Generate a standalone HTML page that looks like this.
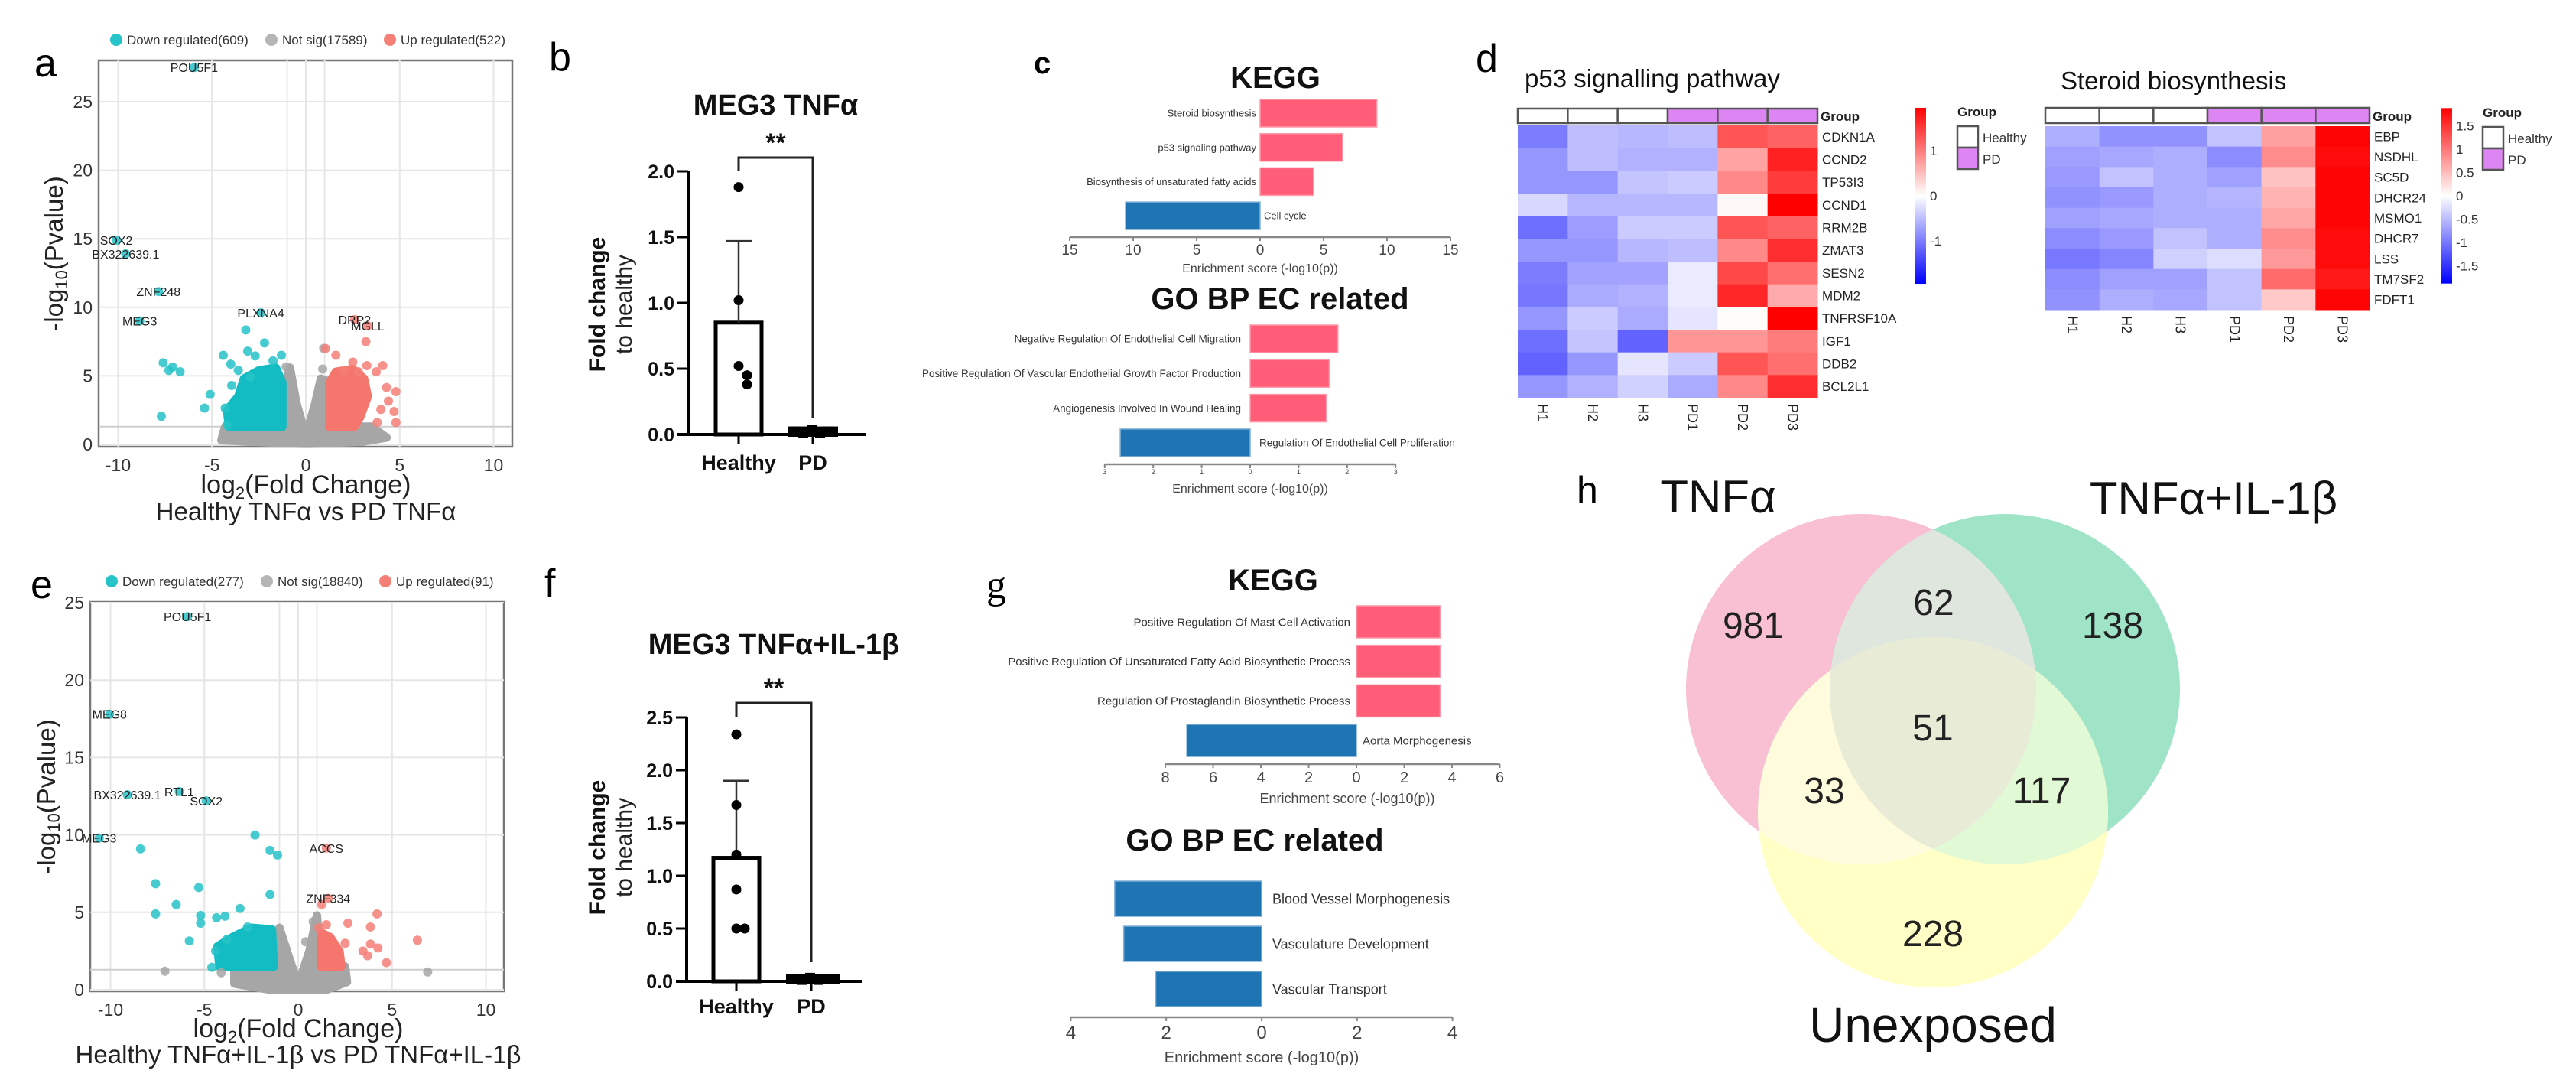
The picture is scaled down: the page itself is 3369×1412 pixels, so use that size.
<!DOCTYPE html>
<html><head><meta charset="utf-8"><title>MEG3 figure</title>
<style>
html,body{margin:0;padding:0;background:#fff;}
svg{display:block;font-family:"Liberation Sans",Arial,sans-serif;}
</style></head>
<body>
<svg id="fig" xmlns="http://www.w3.org/2000/svg" width="3369" height="1412" viewBox="0 0 3369 1412">
<rect x="0" y="0" width="3369" height="1412" fill="#fff"/>
<text x="45" y="100" font-size="52">a</text>
<text x="718" y="92" font-size="52">b</text>
<text x="1352" y="96" font-size="40" font-weight="bold">c</text>
<text x="1930" y="94" font-size="52">d</text>
<text x="40" y="782" font-size="52">e</text>
<text x="712" y="780" font-size="52">f</text>
<text x="1290" y="782" font-size="52" font-family="Liberation Serif,serif">g</text>
<text x="2062" y="658" font-size="50">h</text>
<g id="root"></g>
</svg>
<script>
// ---------------- DATA ----------------
const aDownX=[-5.95,-10.1,-9.6,-7.85,-8.85,-2.4,-3.2,-2.2,-3.1,-2.7,-4.4,-4.0,-1.3,-1.75,-7.6,-7.3,-7.1,-6.7,-5.1,-5.4,-7.7,-4.3,-3.95,-3.6,-4.2,-2.95];
const aDownY=[27.5,14.9,13.9,11.15,9.0,9.6,8.35,7.4,6.8,6.45,6.5,5.85,6.5,6.1,5.95,5.4,5.65,5.3,3.65,2.65,2.05,2.65,4.3,5.4,1.4,4.9];
const aUpX=[2.6,3.3,3.2,1.05,1.6,3.25,4.1,2.8,3.75,4.8,4.4,4.0,4.7,4.8,3.8,4.3,2.05,2.5];
const aUpY=[9.1,8.65,7.5,7.0,6.5,5.75,5.75,5.3,5.3,3.85,3.15,2.55,2.4,1.6,1.6,4.15,5.4,6.0];
const aNsX=[0.95,0.9,-1.05];
const aNsY=[7.0,5.5,5.65];
const aLabelText=["POU5F1","SOX2","BX322639.1","ZNF248","MEG3","PLXNA4","DRP2","MGLL"];
const aLabelX=[-5.95,-10.1,-9.6,-7.85,-8.85,-2.4,2.6,3.3];
const aLabelY=[27.5,14.9,13.9,11.15,9.0,9.6,9.1,8.65];
const aNsCloudX=[-4.5,-4.3,-1.3,-1.2,-0.85,-0.5,0,0.5,0.8,1.2,1.3,3.5,4.3,3.0,0.3,-0.3];
const aNsCloudY=[0.3,1.3,1.3,3.5,5.6,3.0,0.6,3.0,4.8,4.6,1.3,1.3,0.5,0.2,0.05,0.05];
const aDownCloudX=[-4.1,-4.2,-3.6,-3.3,-2.5,-1.6,-1.25,-1.25];
const aDownCloudY=[1.3,2.5,3.5,4.8,5.4,5.6,4.5,1.3];
const aUpCloudX=[1.25,1.25,1.6,2.5,3.1,3.3,2.9,2.6];
const aUpCloudY=[1.3,4.5,5.3,5.5,4.8,3.5,2.0,1.3];
const aLegend=["Down regulated(609)","Not sig(17589)","Up regulated(522)"];

const eDownX=[-5.9,-10.05,-6.34,-9.1,-4.9,-10.6,-8.4,-2.3,-1.5,-1.1,-7.6,-5.3,-1.5,-6.5,-3.1,-7.6,-5.2,-5.2,-4.35,-3.9,-2.7,-5.8,-3.8,-4.6,-4.4];
const eDownY=[24.1,17.8,12.8,12.6,12.2,9.8,9.1,10.0,9.0,8.7,6.85,6.6,6.15,5.5,5.25,4.9,4.8,4.3,4.65,4.75,4.05,3.15,3.25,1.45,2.5];
const eUpX=[1.5,1.6,1.25,4.2,2.65,3.85,6.35,4.25,3.45,3.7,4.7,2.5,1.5,1.1,3.85];
const eUpY=[9.15,5.9,5.5,4.9,4.3,4.05,3.2,2.7,2.5,2.2,1.75,3.0,4.2,4.0,2.95];
const eNsX=[-7.1,6.9,-4.1,0.8,0.4];
const eNsY=[1.2,1.15,1.1,4.4,3.1];
const eLabelText=["POU5F1","MEG8","RTL1","BX322639.1","SOX2","MEG3","ACCS","ZNF334"];
const eLabelX=[-5.9,-10.05,-6.34,-9.1,-4.9,-10.6,1.5,1.6];
const eLabelY=[24.1,17.8,12.8,12.6,12.2,9.8,9.15,5.9];
const eNsCloudX=[-3.4,-3.4,-1.4,-1.0,-0.6,0,0.6,1.0,1.2,2.5,2.6,1.5,-1.5];
const eNsCloudY=[0.4,1.5,1.5,4.0,2.5,0.3,2.5,4.8,1.5,1.5,0.5,0.0,0.0];
const eDownCloudX=[-4.2,-4.3,-3.5,-2.5,-1.4,-1.3];
const eDownCloudY=[1.5,2.8,3.4,4.0,3.9,1.5];
const eUpCloudX=[1.2,1.2,1.7,2.2,2.3];
const eUpCloudY=[1.5,3.7,3.4,2.5,1.5];
const eLegend=["Down regulated(277)","Not sig(18840)","Up regulated(91)"];

const bGroups=["Healthy","PD"];
const bHealthy=[1.88,1.02,0.52,0.45,0.38];
const bPD=[0.02,0.01,0.03,0.01,0.02];
const bMean=[0.85,0.02];
const bSD=[0.62,0.01];
const bTicks=[0,0.5,1.0,1.5,2.0];
const fHealthy=[2.34,1.67,1.2,0.87,0.5,0.5];
const fPD=[0.02,0.01,0.03,0.01,0.02,0.02];
const fMean=[1.17,0.02];
const fSD=[0.73,0.01];
const fTicks=[0,0.5,1.0,1.5,2.0,2.5];

const cKeggTerms=["Steroid biosynthesis","p53 signaling pathway","Biosynthesis of unsaturated fatty acids","Cell cycle"];
const cKeggVals=[9.2,6.5,4.2,-10.6];
const cKeggTicks=[-15,-10,-5,0,5,10,15];
const cGoTerms=["Negative Regulation Of Endothelial Cell Migration","Positive Regulation Of Vascular Endothelial Growth Factor Production","Angiogenesis Involved In Wound Healing","Regulation Of Endothelial Cell Proliferation"];
const cGoVals=[1.81,1.63,1.57,-2.68];
const cGoTicks=[-3,-2,-1,0,1,2,3];
const gKeggTerms=["Positive Regulation Of Mast Cell Activation","Positive Regulation Of Unsaturated Fatty Acid Biosynthetic Process","Regulation Of Prostaglandin Biosynthetic Process","Aorta Morphogenesis"];
const gKeggVals=[3.5,3.5,3.5,-7.1];
const gKeggTicks=[-8,-6,-4,-2,0,2,4,6];
const gGoTerms=["Blood Vessel Morphogenesis","Vasculature Development","Vascular Transport"];
const gGoVals=[-3.08,-2.89,-2.22];
const gGoTicks=[-4,-2,0,2,4];

const hSamples=["H1","H2","H3","PD1","PD2","PD3"];
const hGroups=["Healthy","Healthy","Healthy","PD","PD","PD"];
const p53Genes=["CDKN1A","CCND2","TP53I3","CCND1","RRM2B","ZMAT3","SESN2","MDM2","TNFRSF10A","IGF1","DDB2","BCL2L1"];
const p53Vals=[
[-1.0,-0.5,-0.55,-0.5,1.3,1.2],
[-0.8,-0.5,-0.6,-0.6,0.7,1.7],
[-0.8,-0.8,-0.45,-0.4,0.9,1.5],
[-0.3,-0.55,-0.55,-0.55,0.05,1.95],
[-1.1,-0.75,-0.4,-0.4,1.3,1.2],
[-0.8,-0.8,-0.55,-0.5,0.9,1.6],
[-1.0,-0.7,-0.7,-0.15,1.4,1.1],
[-1.05,-0.65,-0.6,-0.15,1.65,0.65],
[-0.8,-0.4,-0.65,-0.2,0.02,1.95],
[-1.1,-0.45,-1.2,0.8,0.8,1.0],
[-1.2,-0.8,-0.2,-0.4,1.3,1.1],
[-0.8,-0.6,-0.35,-0.65,0.9,1.6]];
const p53Ticks=[-1,0,1];
const sterGenes=["EBP","NSDHL","SC5D","DHCR24","MSMO1","DHCR7","LSS","TM7SF2","FDFT1"];
const sterVals=[
[-0.6,-0.8,-0.8,-0.45,0.7,1.85],
[-0.7,-0.65,-0.6,-0.85,0.85,1.8],
[-0.75,-0.45,-0.6,-0.7,0.45,1.85],
[-0.8,-0.75,-0.6,-0.55,0.55,1.85],
[-0.7,-0.65,-0.6,-0.6,0.65,1.85],
[-0.85,-0.75,-0.45,-0.6,0.85,1.8],
[-1.0,-0.9,-0.35,-0.25,0.75,1.8],
[-0.85,-0.7,-0.7,-0.45,1.1,1.7],
[-0.8,-0.6,-0.65,-0.45,0.4,1.85]];
const sterTicks=[-1.5,-1,-0.5,0,0.5,1,1.5];

const vennSets=["TNFα","TNFα+IL-1β","Unexposed"];
const vennCounts=[981,138,228,62,33,117,51]; // onlyA, onlyB, onlyC, AB, AC, BC, ABC

// ---------------- DRAWING ----------------
const NS="http://www.w3.org/2000/svg";
const root=document.getElementById('root');
function mk(tag,attrs,parent){const e=document.createElementNS(NS,tag);for(const k in attrs)e.setAttribute(k,attrs[k]);(parent||root).appendChild(e);return e;}
function txt(x,y,s,size,attrs,parent){const a=Object.assign({x:x,y:y,'font-size':size,fill:'#222'},attrs||{});const t=mk('text',a,parent);t.textContent=s;return t;}

function volcano(P,D){
  const g=mk('g',{});
  
  
  const X=v=>P.x0+v*P.kx, Y=v=>P.y0-v*P.ky;
  const box=mk('rect',{x:P.L,y:P.T,width:P.R-P.L,height:P.B-P.T,fill:'#fff',stroke:'#777','stroke-width':2.5},g);
  
  
  [-10,-5,0,5,10,-1,1].forEach(v=>{const l=mk('line',{x1:X(v),x2:X(v),y1:P.T,y2:P.B,stroke:'#e6e6e6','stroke-width':2},g);
    
    });
  P.yt.forEach(v=>{const l=mk('line',{x1:P.L,x2:P.R,y1:Y(v),y2:Y(v),stroke:'#e6e6e6','stroke-width':2},g);
    
    
    const t=txt(P.L-8,Y(v)+8,String(v),23,{'text-anchor':'end',fill:'#333'},g);
    
    });
  [-10,-5,0,5,10].forEach(v=>{const t=txt(X(v),P.B+32,String(v),23,{'text-anchor':'middle',fill:'#333'},g);
    
    });
  const th=mk('line',{x1:P.L,x2:P.R,y1:Y(1.3),y2:Y(1.3),stroke:'#cfcfcf','stroke-width':2},g);
  
  
  function cloud(xs,ys,col,name){const pts=xs.map((v,i)=>X(v)+','+Y(ys[i])).join(' ');
    const p=mk('polygon',{points:pts,fill:col,stroke:col,'stroke-width':11,'stroke-linejoin':'round'},g);
    
    }
  cloud(D.nsCX,D.nsCY,'#a6a6a6','not-sig-cloud');
  cloud(D.dnCX,D.dnCY,'#12bcc2','down-cloud');
  cloud(D.upCX,D.upCY,'#f4766c','up-cloud');
  function pts(xs,ys,col,name){xs.forEach((v,i)=>{const c=mk('circle',{cx:X(v),cy:Y(ys[i]),r:6,fill:col,'fill-opacity':0.85},g);
    
    });}
  pts(D.nsX,D.nsY,'#a6a6a6','point-not-sig');
  pts(D.dnX,D.dnY,'#26c3c8','point-down');
  pts(D.upX,D.upY,'#f47f77','point-up');
  D.lt.forEach((s,i)=>{const t=txt(X(D.lx[i]),Y(D.ly[i])+6,s,16,{'text-anchor':'middle',fill:'#222'},g);
    
    });
  const lc=['#26c3c8','#b5b5b5','#f47f77'];
  D.leg.forEach((s,i)=>{const c=mk('circle',{cx:P.legX[i],cy:P.legY,r:8,fill:lc[i]},g);
    
    
    const t=txt(P.legX[i]+14,P.legY+6,s,17,{fill:'#333'},g);
    
    });
  const yt=txt(0,0,'',33,{'text-anchor':'middle',transform:`translate(${P.ytX},${(P.T+P.B)/2}) rotate(-90)`,fill:'#222'},g);
  yt.innerHTML='-log<tspan font-size="22" dy="6">10</tspan><tspan dy="-6">(Pvalue)</tspan>';
  
  
  const xt=txt(X(0),P.xtY,'',34,{'text-anchor':'middle',fill:'#222'},g);
  xt.innerHTML='log<tspan font-size="22" dy="7">2</tspan><tspan dy="-7">(Fold Change)</tspan>';
  
  
  const st=txt(X(0),P.stY,D.sub,33,{'text-anchor':'middle',fill:'#222'},g);
  
  
}
volcano({name:'volcano-tnfa',L:129,R:670,T:79,B:584,x0:400,kx:24.55,y0:581,ky:17.92,yt:[0,5,10,15,20,25],legX:[152,355,510],legY:52,ytX:82,xtY:645,stY:680},
 {nsCX:aNsCloudX,nsCY:aNsCloudY,dnCX:aDownCloudX,dnCY:aDownCloudY,upCX:aUpCloudX,upCY:aUpCloudY,nsX:aNsX,nsY:aNsY,dnX:aDownX,dnY:aDownY,upX:aUpX,upY:aUpY,lt:aLabelText,lx:aLabelX,ly:aLabelY,leg:aLegend,sub:'Healthy TNFα vs PD TNFα'});
volcano({name:'volcano-tnfa-il1b',L:118,R:659,T:787,B:1296,x0:390,kx:24.55,y0:1294,ky:20.24,yt:[0,5,10,15,20,25],legX:[146,349,504],legY:760,ytX:72,xtY:1356,stY:1390},
 {nsCX:eNsCloudX,nsCY:eNsCloudY,dnCX:eDownCloudX,dnCY:eDownCloudY,upCX:eUpCloudX,upCY:eUpCloudY,nsX:eNsX,nsY:eNsY,dnX:eDownX,dnY:eDownY,upX:eUpX,upY:eUpY,lt:eLabelText,lx:eLabelX,ly:eLabelY,leg:eLegend,sub:'Healthy TNFα+IL-1β vs PD TNFα+IL-1β'});

function dotbar(P,H,PDv,mean,sd,ticks){
  const g=mk('g',{});
  
  
  const Y=v=>P.y0-v*P.ky;
  const gx=[P.hx,P.px];
  const t=txt((gx[0]+gx[1])/2,P.titleY,P.title,38,{'text-anchor':'middle','font-weight':'bold',fill:'#111'},g);
  
  
  mean.forEach((m,i)=>{const h=Math.max(Y(0)-Y(m),0);
    if(i===0){const r=mk('rect',{x:gx[i]-30,y:Y(m),width:60,height:h,fill:'#fff',stroke:'#000','stroke-width':5},g);
      
      }
    else{const r=mk('rect',{x:gx[i]-33,y:Y(m)-7,width:66,height:h+10,fill:'#000'},g);
      
      }
    const e=mk('line',{x1:gx[i],x2:gx[i],y1:Y(m),y2:Y(m+sd[i]),stroke:'#333','stroke-width':2.5},g);
    
    
    const c=mk('line',{x1:gx[i]-17,x2:gx[i]+17,y1:Y(m+sd[i]),y2:Y(m+sd[i]),stroke:'#333','stroke-width':2.5},g);
    
    });
  H.forEach((v,i)=>{let dx=0; if(i>0){for(let j=0;j<i;j++){if(Math.abs(H[j]-v)<0.12)dx=(dx<=0?11:-11);}}
    const c=mk('circle',{cx:gx[0]+dx,cy:Y(v),r:6.5,fill:'#000'},g);
    
    });
  PDv.forEach((v,i)=>{const c=mk('rect',{x:gx[1]-30+i*11,y:Y(v)-7,width:13,height:13,fill:'#000'},g);
    
    });
  const ya=mk('line',{x1:P.ax,x2:P.ax,y1:Y(ticks[ticks.length-1]),y2:Y(0),stroke:'#000','stroke-width':4},g);
  
  
  const xa=mk('line',{x1:P.ax-14,x2:P.xEnd,y1:Y(0),y2:Y(0),stroke:'#000','stroke-width':4},g);
  
  
  ticks.forEach(v=>{const l=mk('line',{x1:P.ax-14,x2:P.ax,y1:Y(v),y2:Y(v),stroke:'#000','stroke-width':3},g);
    
    
    const tl=txt(P.ax-18,Y(v)+9,v.toFixed(1),25,{'text-anchor':'end','font-weight':'bold',fill:'#111'},g);
    
    });
  bGroups.forEach((s,i)=>{const l=mk('line',{x1:gx[i],x2:gx[i],y1:Y(0),y2:Y(0)+12,stroke:'#000','stroke-width':3},g);
    
    
    const tl=txt(gx[i],P.labY,s,27,{'text-anchor':'middle','font-weight':'bold',fill:'#111'},g);
    
    });
  const br=mk('polyline',{points:`${gx[0]},${P.legH} ${gx[0]},${P.brY} ${gx[1]},${P.brY} ${gx[1]},${P.legP}`,fill:'none',stroke:'#222','stroke-width':3},g);
  
  
  const st=txt((gx[0]+gx[1])/2,P.brY-8,'**',34,{'text-anchor':'middle','font-weight':'bold',fill:'#111'},g);
  
  
  const yt=txt(0,0,'Fold change',30,{'text-anchor':'middle','font-weight':'bold',fill:'#111',transform:`translate(${P.ytX},${P.ytY}) rotate(-90)`},g);
  
  
  const yt2=txt(0,0,'to healthy',30,{'text-anchor':'middle',fill:'#222',transform:`translate(${P.ytX+35},${P.ytY}) rotate(-90)`},g);
  
  
}
dotbar({name:'bar-meg3-tnfa',title:'MEG3 TNFα',hx:966,px:1063,ax:900,xEnd:1132,y0:568,ky:172,titleY:150,brY:206,legH:224,legP:547,labY:614,ytX:791,ytY:398},bHealthy,bPD,bMean,bSD,bTicks);
dotbar({name:'bar-meg3-tnfa-il1b',title:'MEG3 TNFα+IL-1β',hx:963,px:1061,ax:898,xEnd:1128,y0:1283,ky:138,titleY:855,brY:919,legH:938,legP:1258,labY:1325,ytX:791,ytY:1108},fHealthy,fPD,fMean,fSD,fTicks);

function enrich(P,terms,vals,ticks){
  const g=mk('g',{});
  
  
  const X=v=>P.x0+v*P.kx;
  const t=txt(P.titleX,P.titleY,P.title,40,{'text-anchor':'middle','font-weight':'bold',fill:'#111'},g);
  
  
  terms.forEach((s,i)=>{const v=vals[i];const cy=P.y1+i*P.dy;
    const r=mk('rect',{x:Math.min(X(0),X(v)),y:cy-P.bh/2,width:Math.abs(X(v)-X(0)),height:P.bh,fill:v>=0?'#ff5d78':'#1f75b3',stroke:v>=0?'#ff9aaa':'#7fb0d8','stroke-width':1.5},g);
    
    
    const lab= v>=0 ? txt(X(0)-P.gap,cy+P.fs*0.35,s,P.fs,{'text-anchor':'end',fill:'#333'},g)
                   : txt(X(0)+P.gap,cy+P.fs*0.35,s,P.fs,{fill:'#333'},g);
    
    });
  const ax=mk('line',{x1:X(ticks[0]),x2:X(ticks[ticks.length-1]),y1:P.axY,y2:P.axY,stroke:'#888','stroke-width':2.5},g);
  
  
  ticks.forEach(v=>{const l=mk('line',{x1:X(v),x2:X(v),y1:P.axY,y2:P.axY+5,stroke:'#888','stroke-width':2},g);
    
    
    const tl=txt(X(v),P.axY+P.tfs+4,String(Math.abs(v)),P.tfs,{'text-anchor':'middle',fill:'#444'},g);
    
    });
  const xt=txt(X(0)+P.xtOff,P.xtY,'Enrichment score (-log10(p))',P.xfs,{'text-anchor':'middle',fill:'#444'},g);
  
  
}
enrich({name:'c-kegg',title:'KEGG',titleX:1668,titleY:115,x0:1648,kx:16.6,y1:148,dy:44.7,bh:36,fs:13,gap:5,axY:310,tfs:19,xtOff:0,xtY:356,xfs:16},cKeggTerms,cKeggVals,cKeggTicks);
enrich({name:'c-go-bp',title:'GO BP EC related',titleX:1674,titleY:404,x0:1635,kx:63.4,y1:443,dy:45.3,bh:36,fs:13.5,gap:12,axY:607,tfs:9,xtOff:0,xtY:644,xfs:16},cGoTerms,cGoVals,cGoTicks);
enrich({name:'g-kegg',title:'KEGG',titleX:1665,titleY:772,x0:1774,kx:31.25,y1:813,dy:51.7,bh:42,fs:15,gap:8,axY:999,tfs:20,xtOff:-12,xtY:1050,xfs:18},gKeggTerms,gKeggVals,gKeggTicks);
enrich({name:'g-go-bp',title:'GO BP EC related',titleX:1641,titleY:1112,x0:1650,kx:62.4,y1:1175,dy:59,bh:46,fs:18,gap:14,axY:1330,tfs:24,xtOff:0,xtY:1389,xfs:20},gGoTerms,gGoVals,gGoTicks);

function hcol(v,m){const t=Math.max(-1,Math.min(1,v/m));
  if(t>=0){const c=Math.round(255*(1-t));return `rgb(255,${c},${c})`;}
  const c=Math.round(255*(1+t));return `rgb(${c},${c},255)`;}
let gradN=0;
function heat(P,genes,vals,ticks){
  const g=mk('g',{});
  
  
  const t=txt(P.titleX,P.titleY,P.title,33,{fill:'#111'},g);
  
  
  const cw=(P.R-P.L)/hSamples.length, rh=(P.B-P.T)/genes.length;
  hSamples.forEach((s,j)=>{const a=mk('rect',{x:P.L+j*cw,y:P.gT,width:cw,height:P.gB-P.gT,fill:hGroups[j]==='PD'?'#dd85f3':'#fff',stroke:'#555','stroke-width':2.5},g);
    
    
    const sl=txt(0,0,s,18,{fill:'#222',transform:`translate(${P.L+j*cw+cw/2-6},${P.B+8}) rotate(90)`},g);
    
    });
  const gl=txt(P.R+4,P.gB-3,'Group',17,{'font-weight':'bold',fill:'#222'},g);
  
  
  genes.forEach((gn,i)=>{vals[i].forEach((v,j)=>{const c=mk('rect',{x:P.L+j*cw,y:P.T+i*rh,width:cw+0.5,height:rh+0.5,fill:hcol(v,P.vmax)},g);
      
      });
    const l=txt(P.R+6,P.T+i*rh+rh/2+6,gn,17,{fill:'#222'},g);
    
    });
  gradN++;
  const id='grad'+gradN;
  const defs=mk('defs',{},g);
  const lg=mk('linearGradient',{id:id,x1:0,y1:0,x2:0,y2:1},defs);
  mk('stop',{offset:'0%','stop-color':'#ff0000'},lg);
  mk('stop',{offset:'50%','stop-color':'#ffffff'},lg);
  mk('stop',{offset:'100%','stop-color':'#0000ff'},lg);
  const cy0=P.cb0, ck=P.cbk;
  const cb=mk('rect',{x:P.cbX,y:cy0-P.vmax*ck,width:15,height:2*P.vmax*ck,fill:`url(#${id})`},g);
  
  
  ticks.forEach(v=>{const tl=txt(P.cbX+20,cy0-v*ck+6,String(v),17,{fill:'#333'},g);
    
    });
  const lt=txt(P.lgX,P.lgY,'Group',17,{'font-weight':'bold',fill:'#222'},g);
  
  
  ['Healthy','PD'].forEach((s,i)=>{const r=mk('rect',{x:P.lgX,y:P.lgY+13+i*28,width:27,height:28,fill:i?'#dd85f3':'#fff',stroke:'#555','stroke-width':2.5},g);
    
    
    const tt=txt(P.lgX+33,P.lgY+34+i*28,s,17,{fill:'#333'},g);
    
    });
}
heat({name:'heatmap-p53',title:'p53 signalling  pathway',titleX:1994,titleY:114,L:1985,R:2377,gT:142,gB:161,T:164,B:520,vmax:1.95,cbX:2504,cb0:256,cbk:59,lgX:2560,lgY:152},p53Genes,p53Vals,p53Ticks);
heat({name:'heatmap-steroid',title:'Steroid biosynthesis',titleX:2695,titleY:117,L:2675,R:3099,gT:141,gB:161,T:165,B:405,vmax:1.88,cbX:3192,cb0:256,cbk:61,lgX:3247,lgY:153},sterGenes,sterVals,sterTicks);

// ---------- venn ----------
(function(){
  const g=mk('g',{});
  
  
  const R=229;
  const circ=[[2434,901],[2622,901],[2528,1062]];
  const base=['#f9bfd3','#a0e4c8','#ffffc6'];
  const cn=['venn-circle-tnfa','venn-circle-tnfa-il1b','venn-circle-unexposed'];
  const defs=mk('defs',{},g);
  ['clipA','clipB','clipC'].forEach((id,i)=>{const cp=mk('clipPath',{id:id},defs);mk('circle',{cx:circ[i][0],cy:circ[i][1],r:R},cp);});
  circ.forEach((c,i)=>{const e=mk('circle',{cx:c[0],cy:c[1],r:R,fill:base[i]},g);
    
    });
  function region(outer,innerCircle,col,name,third){
    const ga=mk('g',{'clip-path':`url(#${outer})`},g);
    let host=ga;
    if(third){host=mk('g',{'clip-path':`url(#${third})`},ga);}
    const e=mk('circle',{cx:circ[innerCircle][0],cy:circ[innerCircle][1],r:R,fill:col},host);
    
    }
  region('clipA',1,'#dee6de','venn-overlap-ab');
  region('clipA',2,'#fffbdd','venn-overlap-ac');
  region('clipB',2,'#e2f9d6','venn-overlap-bc');
  region('clipA',2,'#e8ebd6','venn-overlap-abc','clipB');
  const pos=[[2293,817],[2763,817],[2528,1220],[2529,787],[2386,1033],[2670,1033],[2528,951]];
  vennCounts.forEach((n,i)=>{const t=txt(pos[i][0],pos[i][1]+17,String(n),48,{'text-anchor':'middle',fill:'#222'},g);
    
    });
  const lp=[[2247,670],[2895,672],[2528,1362]];
  vennSets.forEach((s,i)=>{const t=txt(lp[i][0],lp[i][1],s,i===2?64:60,{'text-anchor':'middle',fill:'#111'},g);
    
    });
})();
</script>
</body></html>
